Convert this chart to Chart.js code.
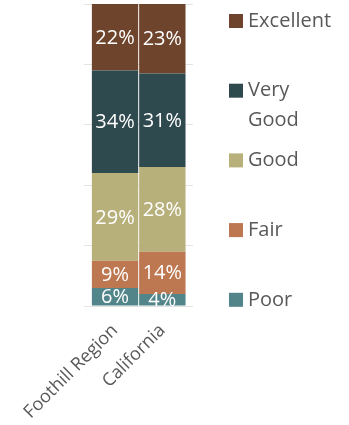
<!DOCTYPE html>
<html>
<head>
<meta charset="utf-8">
<script src="https://cdn.jsdelivr.net/npm/chart.js@4"></script>
<style>
  html, body { margin: 0; padding: 0; background: #fff; }
  #wrap { width: 349px; height: 425px; }
</style>
</head>
<body>
<div id="wrap"><canvas id="chart" width="349" height="425"></canvas></div>
<script>
// categories and share of answers per rating (percent)
const categories = ["Foothill Region", "California"];
const poor = [6, 4];
const fair = [9, 14];
const good = [29, 28];
const veryGood = [34, 31];
const excellent = [22, 23];

const textGray = "#595959";
const gridGray = "#e3e3e3";

// stacked from the bottom up
const series = [
  { label: "Poor", data: poor, color: "#52858a" },
  { label: "Fair", data: fair, color: "#bd7751" },
  { label: "Good", data: good, color: "#b7b07a" },
  { label: "Very Good", data: veryGood, color: "#2f4a4f" },
  { label: "Excellent", data: excellent, color: "#6f442c" },
];

// white percentage in the middle of each segment
const segmentLabels = {
  id: "segmentLabels",
  afterDatasetsDraw(chart) {
    const ctx = chart.ctx;
    ctx.save();
    ctx.fillStyle = "#ffffff";
    ctx.font = "20px 'Open Sans'";
    ctx.textAlign = "center";
    ctx.textBaseline = "middle";
    chart.data.datasets.forEach((ds, i) => {
      chart.getDatasetMeta(i).data.forEach((bar, j) => {
        const mid = (bar.y + bar.base) / 2;
        ctx.fillText(ds.data[j] + "%", bar.x, mid + 1);
      });
    });
    ctx.restore();
  },
};

// legend on the right, top item = top of stack, long names wrap
const sideLegend = {
  id: "sideLegend",
  afterDraw(chart) {
    const ctx = chart.ctx;
    const boxX = 229, textX = 248, box = 14, step = 69.7, lineH = 30, maxW = 90;
    ctx.save();
    ctx.font = "20px 'Open Sans'";
    ctx.textBaseline = "middle";
    ctx.textAlign = "left";
    const items = chart.data.datasets.slice().reverse();
    items.forEach((ds, i) => {
      const y = 21 + i * step;
      ctx.fillStyle = ds.backgroundColor;
      ctx.fillRect(boxX, y - box / 2, box, box);
      ctx.fillStyle = textGray;
      let lines = [ds.label];
      if (ctx.measureText(ds.label).width > maxW) lines = ds.label.split(" ");
      lines.forEach((ln, k) => ctx.fillText(ln, textX, y + k * lineH));
    });
    ctx.restore();
  },
};

new Chart(document.getElementById("chart"), {
  type: "bar",
  data: {
    labels: categories,
    datasets: series.map(s => ({
      label: s.label,
      data: s.data,
      backgroundColor: s.color,
      borderWidth: 0,
      barPercentage: 0.98,
      categoryPercentage: 1,
    })),
  },
  options: {
    responsive: false,
    animation: false,
    layout: { padding: { top: 4, left: 0, right: 156, bottom: 0 } },
    plugins: {
      legend: { display: false },
      tooltip: { enabled: false },
    },
    scales: {
      x: {
        stacked: true,
        offset: true,
        afterFit: (scale) => { scale.height = 119; },
        grid: { display: false },
        border: { display: false },
        ticks: {
          color: textGray,
          font: { family: "'Open Sans'", size: 18 },
          maxRotation: 45,
          minRotation: 45,
          padding: 6,
        },
      },
      y: {
        stacked: true,
        min: 0,
        max: 100,
        afterFit: (scale) => { scale.width = 85; },
        ticks: { display: false, stepSize: 20 },
        grid: { color: gridGray, drawTicks: true, tickLength: 7 },
        border: { display: false },
      },
      y2: {
        position: "right",
        min: 0,
        max: 100,
        afterFit: (scale) => { scale.width = 7; },
        ticks: { display: false, stepSize: 20 },
        grid: { color: gridGray, drawOnChartArea: false, drawTicks: true, tickLength: 7 },
        border: { display: false },
      },
    },
  },
  plugins: [segmentLabels, sideLegend],
});
</script>
</body>
</html>
